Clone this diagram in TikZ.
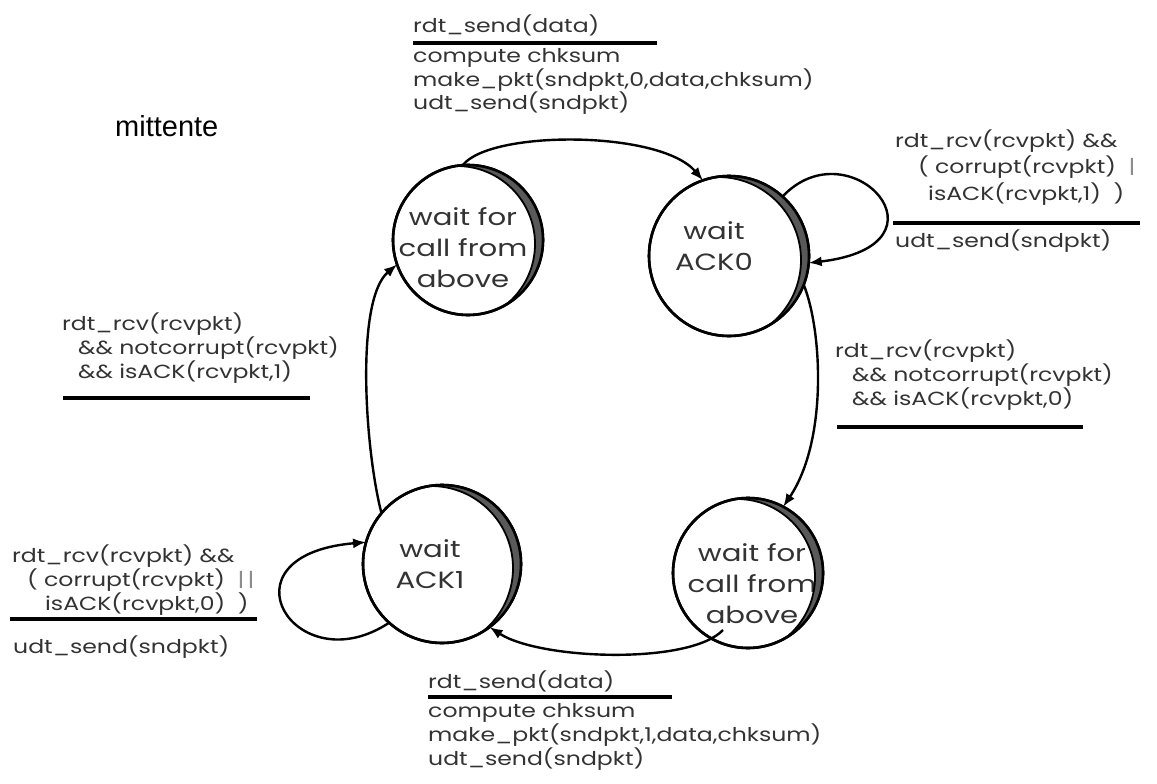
\documentclass[tikz,border=0pt]{standalone}
\usepackage{fontspec}
\setmainfont{Poppins}[FakeStretch=1.24]
\newfontfamily\titlefont{Liberation Sans}
\usetikzlibrary{arrows.meta,calc}

% shaded crescent on the upper right of a state circle
\newcommand\statecrescent[2]{%
  \begin{scope}
    \clip (#1.center) circle (#2);
    \fill[black!65, even odd rule] (#1.center) circle (#2) ($(#1.center)+(-11,4)$) circle (#2+3);
    \draw[line width=1.8pt] ($(#1.center)+(-11,4)$) circle (#2+3);
  \end{scope}
  \draw[line width=2.6pt] (#1.center) circle (#2);
}

\begin{document}
\begin{tikzpicture}[x=1pt,y=-1pt,
  state/.style={circle, draw, line width=2.6pt, fill=white, inner sep=0pt, outer sep=0pt},
  statetext/.style={align=center, inner sep=0pt, text=black!80, font=\fontsize{23.5}{31}\selectfont},
  lbl/.style={anchor=base west, align=left, inner sep=0pt, text=black!80},
  bar/.style={line width=3.5pt},
  trans/.style={line width=2.4pt, -{Latex[length=13pt,width=10pt]}},
]
\useasboundingbox[fill=white] (0,0) rectangle (1157,784);

% title
\node[anchor=base west, inner sep=0pt, font=\titlefont\fontsize{29}{34}\selectfont] (title) at (115,136) {mittente};

% states
\node[state, minimum size=150pt] (s1) at (468,240) {};
\node[state, minimum size=160pt] (s2) at (729,256) {};
\node[state, minimum size=158pt] (s3) at (442,564) {};
\node[state, minimum size=150pt] (s4) at (748,573) {};

\node[statetext] (s1t) at (463,248) {wait for\\call from\\above};
\node[statetext] (s2t) at (714,246) {wait\\ACK0};
\node[statetext] (s3t) at (430,564) {wait\\ACK1};
\node[statetext] (s4t) at (752,584) {wait for\\call from\\above};

\statecrescent{s1}{75}
\statecrescent{s2}{80}
\statecrescent{s3}{79}
\statecrescent{s4}{75}

% transitions
\draw[trans] (s1.94) .. controls (490,130) and (660,130) .. (s2.109);
\draw[trans] (s2.48) .. controls (850,125) and (960,245) .. (s2.-5);
\coordinate (s2low) at (s2.-21);
\draw[trans] (s2low) .. controls (822,330) and (828,440) .. (s4.62);
\coordinate (s4in) at ($(s4.center)+(-25,57)$);
\draw[trans] (s4in) .. controls (690,665) and (540,660) .. (s3.-53);
\draw[trans] (s3.228) .. controls (295,685) and (215,555) .. (s3.164);
\draw[trans] (s3.140) .. controls (365,450) and (355,300) .. (s1.199);

% (the base anchor of a multi-line label is the baseline of its last line)

% top transition label
\node[lbl, font=\fontsize{19}{20.5}\selectfont] (a1) at (413,33) {rdt\_send(data)};
\draw[bar] (413,43) -- (657,43);
\node[lbl, font=\fontsize{19}{20.5}\selectfont] (a2) at (413,110) {compute chksum\\make\_pkt(sndpkt,0,data,chksum)\\udt\_send(sndpkt)};

% self-loop label at wait ACK0
\node[lbl, font=\fontsize{19}{26.5}\selectfont] (b1) at (895,200) {rdt\_rcv(rcvpkt) \&\&\\\hspace*{23pt}( corrupt(rcvpkt) \ \textcolor{black!45}{|}\\\hspace*{33pt}isACK(rcvpkt,1) \ )};
\draw[bar] (893,223) -- (1140,223);
\node[lbl, font=\fontsize{19}{20.5}\selectfont] (b2) at (895,247) {udt\_send(sndpkt)};

% left label
\node[lbl, font=\fontsize{19}{21.5}\selectfont] (c1) at (62,378) {rdt\_rcv(rcvpkt)\\\hspace*{16pt}\&\& notcorrupt(rcvpkt)\\\hspace*{16pt}\&\& isACK(rcvpkt,1)};
\draw[bar] (63,398) -- (310,398);

% right label
\node[lbl, font=\fontsize{19}{21.5}\selectfont] (d1) at (835,405) {rdt\_rcv(rcvpkt)\\\hspace*{17pt}\&\& notcorrupt(rcvpkt)\\\hspace*{17pt}\&\& isACK(rcvpkt,0)};
\draw[bar] (837,427) -- (1083,427);

% self-loop label at wait ACK1
\node[lbl, font=\fontsize{19}{24}\selectfont] (e1) at (12,610) {rdt\_rcv(rcvpkt) \&\&\\\hspace*{15pt}( corrupt(rcvpkt) \ \textcolor{black!45}{|\,|}\\\hspace*{33pt}isACK(rcvpkt,0) \ )};
\draw[bar] (10,619) -- (257,619);
\node[lbl, font=\fontsize{19}{20.5}\selectfont] (e2) at (13,653) {udt\_send(sndpkt)};

% bottom transition label
\node[lbl, font=\fontsize{19}{20.5}\selectfont] (f1) at (428,688) {rdt\_send(data)};
\draw[bar] (428,697) -- (672,697);
\node[lbl, font=\fontsize{19}{22.5}\selectfont] (f2) at (428,765) {compute chksum\\make\_pkt(sndpkt,1,data,chksum)\\udt\_send(sndpkt)};

\end{tikzpicture}
\end{document}
